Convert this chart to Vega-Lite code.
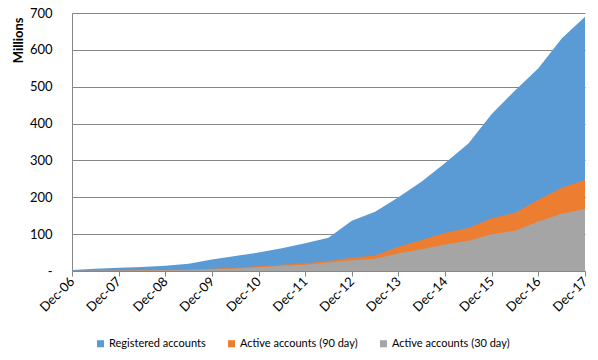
{
  "$schema": "https://vega.github.io/schema/vega-lite/v6.json",
  "width": 513,
  "height": 258,
  "autosize": "none",
  "padding": {"left": 72, "top": 13, "right": 13, "bottom": 89},
  "background": "white",
  "config": {
    "font": "Lato",
    "view": {"stroke": null},
    "axis": {"labelFont": "Lato", "titleFont": "Lato", "labelColor": "#000000", "titleColor": "#000000"},
    "axisY": {
      "title": "Millions",
      "titleFontSize": 13,
      "titleFontWeight": "bold",
      "titleAnchor": "end",
      "titleAlign": "right",
      "titleBaseline": "middle",
      "titleX": -54,
      "titleY": 4,
      "titleAngle": -90,
      "labelFontSize": 13,
      "labelPadding": 20,
      "ticks": false,
      "grid": true,
      "gridColor": "#868686",
      "gridWidth": 1,
      "domainColor": "#868686"
    }
  },
  "data": {
    "values": [
      {"t": 0, "reg": 3, "a90": 0.5, "a30": 0.3},
      {"t": 0.5, "reg": 6, "a90": 1, "a30": 0.7},
      {"t": 1, "reg": 9, "a90": 1.5, "a30": 1},
      {"t": 1.5, "reg": 11, "a90": 2, "a30": 1.5},
      {"t": 2, "reg": 14, "a90": 3, "a30": 2},
      {"t": 2.5, "reg": 20, "a90": 4, "a30": 3},
      {"t": 3, "reg": 31, "a90": 6, "a30": 5},
      {"t": 3.5, "reg": 41, "a90": 9, "a30": 7},
      {"t": 4, "reg": 50, "a90": 13, "a30": 10},
      {"t": 4.5, "reg": 62, "a90": 17, "a30": 14},
      {"t": 5, "reg": 75, "a90": 21, "a30": 17},
      {"t": 5.5, "reg": 90, "a90": 27, "a30": 23},
      {"t": 6, "reg": 136, "a90": 36, "a30": 29},
      {"t": 6.5, "reg": 161, "a90": 42, "a30": 33},
      {"t": 7, "reg": 200, "a90": 66, "a30": 48},
      {"t": 7.5, "reg": 243, "a90": 84, "a30": 59},
      {"t": 8, "reg": 293, "a90": 104, "a30": 72},
      {"t": 8.5, "reg": 346, "a90": 117, "a30": 82},
      {"t": 9, "reg": 426, "a90": 143, "a30": 100},
      {"t": 9.5, "reg": 490, "a90": 158, "a30": 109},
      {"t": 10, "reg": 550, "a90": 193, "a30": 134},
      {"t": 10.5, "reg": 631, "a90": 226, "a30": 155},
      {"t": 11, "reg": 690, "a90": 247, "a30": 168}
    ]
  },
  "encoding": {
    "x": {
      "field": "t",
      "type": "quantitative",
      "scale": {"domain": [0, 11], "nice": false, "zero": false},
      "axis": {
        "title": null,
        "values": [0, 1, 2, 3, 4, 5, 6, 7, 8, 9, 10, 11],
        "labelExpr": "'Dec-' + (datum.value + 6 < 10 ? '0' : '') + (datum.value + 6)",
        "labelAngle": -45,
        "labelAlign": "right",
        "labelBaseline": "middle",
        "labelPadding": 3,
        "labelFontSize": 13,
        "labelOverlap": false,
        "labelFlush": false,
        "domainColor": "#868686",
        "tickColor": "#868686",
        "tickSize": 5,
        "grid": false
      }
    }
  },
  "layer": [
    {
      "mark": {"type": "area", "opacity": 1},
      "encoding": {
        "y": {
          "field": "reg",
          "type": "quantitative",
          "scale": {"domain": [0, 700], "nice": false},
          "axis": {
            "title": "Millions",
            "values": [0, 100, 200, 300, 400, 500, 600, 700],
            "labelExpr": "datum.value == 0 ? '-' : datum.label",
            "labelOverlap": false
          }
        },
        "color": {
          "datum": "Registered accounts",
          "type": "nominal",
          "scale": {
            "domain": ["Registered accounts", "Active accounts (90 day)", "Active accounts (30 day)"],
            "range": ["#5B9BD5", "#ED7D31", "#A5A5A5"]
          },
          "legend": {
            "title": null,
            "orient": "none",
            "direction": "horizontal",
            "legendX": 23,
            "legendY": 325,
            "symbolType": "square",
            "symbolSize": 50,
            "symbolStrokeWidth": 0,
            "labelFontSize": 11,
            "labelFont": "Lato",
            "labelColor": "#000000",
            "columnPadding": 20,
            "labelOffset": 3
          }
        }
      }
    },
    {
      "mark": {"type": "area", "opacity": 1},
      "encoding": {
        "y": {
          "field": "a90",
          "type": "quantitative",
          "axis": {
            "title": "Millions",
            "values": [0, 100, 200, 300, 400, 500, 600, 700],
            "labelExpr": "datum.value == 0 ? '-' : datum.label",
            "labelOverlap": false
          }
        },
        "color": {"datum": "Active accounts (90 day)", "type": "nominal"}
      }
    },
    {
      "mark": {"type": "area", "opacity": 1},
      "encoding": {
        "y": {
          "field": "a30",
          "type": "quantitative",
          "axis": {
            "title": "Millions",
            "values": [0, 100, 200, 300, 400, 500, 600, 700],
            "labelExpr": "datum.value == 0 ? '-' : datum.label",
            "labelOverlap": false
          }
        },
        "color": {"datum": "Active accounts (30 day)", "type": "nominal"}
      }
    }
  ]
}
